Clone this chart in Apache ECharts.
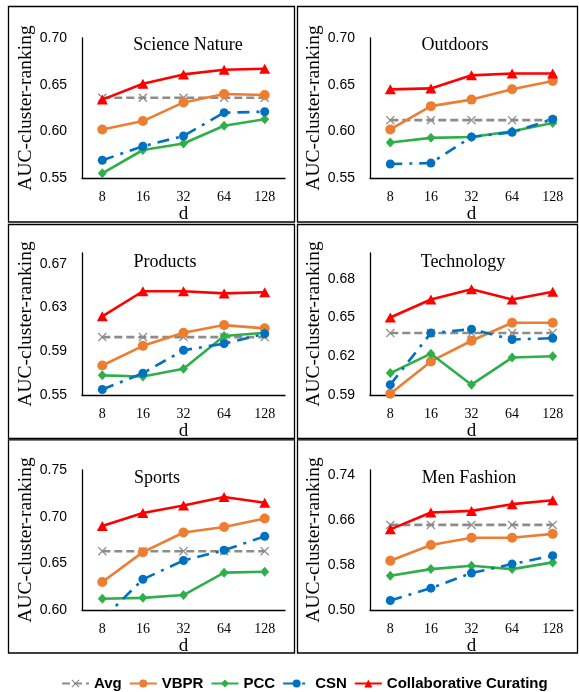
<!DOCTYPE html>
<html><head><meta charset="utf-8">
<script src="https://cdn.jsdelivr.net/npm/echarts@6/dist/echarts.min.js"></script>
<style>html,body{margin:0;padding:0;background:#fff}#c{width:579px;height:692px}</style>
</head><body><div id="c"></div><script>
const categories = ['8','16','32','64','128'];
const seriesNames = ['Avg','VBPR','PCC','CSN','Collaborative Curating'];
const panelTitles = ['Science Nature','Outdoors','Products','Technology','Sports','Men Fashion'];
const yMin = [0.55,0.55,0.55,0.59,0.60,0.50];
const yMax = [0.70,0.70,0.68,0.70,0.75,0.75];
const yStep = [0.05,0.05,0.04,0.03,0.05,0.08];

const scienceAvg  = [0.636,0.636,0.636,0.636,0.636];
const scienceVBPR = [0.602,0.611,0.631,0.640,0.639];
const sciencePCC  = [0.555,0.580,0.587,0.606,0.613];
const scienceCSN  = [0.569,0.584,0.595,0.620,0.621];
const scienceCC   = [0.634,0.651,0.661,0.666,0.667];

const outdoorsAvg  = [0.612,0.612,0.612,0.612,0.612];
const outdoorsVBPR = [0.602,0.627,0.634,0.645,0.654];
const outdoorsPCC  = [0.588,0.593,0.594,0.600,0.609];
const outdoorsCSN  = [0.565,0.566,0.594,0.599,0.613];
const outdoorsCC   = [0.645,0.646,0.660,0.662,0.662];

const productsAvg  = [0.603,0.603,0.603,0.603,0.603];
const productsVBPR = [0.577,0.595,0.607,0.614,0.611];
const productsPCC  = [0.568,0.567,0.574,0.604,0.607];
const productsCSN  = [0.555,0.570,0.591,0.597,0.606];
const productsCC   = [0.622,0.645,0.645,0.643,0.644];

const technologyAvg  = [0.638,0.638,0.638,0.638,0.638];
const technologyVBPR = [0.591,0.616,0.632,0.646,0.646];
const technologyPCC  = [0.607,0.622,0.598,0.619,0.620];
const technologyCSN  = [0.598,0.638,0.641,0.633,0.634];
const technologyCC   = [0.650,0.664,0.672,0.664,0.670];

const sportsAvg  = [0.663,0.663,0.663,0.663,0.663];
const sportsVBPR = [0.630,0.662,0.683,0.689,0.698];
const sportsPCC  = [0.612,0.613,0.616,0.640,0.641];
const sportsCSN  = [0.590,0.633,0.653,0.664,0.679];
const sportsCC   = [0.690,0.704,0.712,0.721,0.715];

const fashionAvg  = [0.652,0.652,0.652,0.652,0.652];
const fashionVBPR = [0.588,0.616,0.629,0.629,0.636];
const fashionPCC  = [0.561,0.573,0.579,0.573,0.585];
const fashionCSN  = [0.517,0.539,0.566,0.582,0.597];
const fashionCC   = [0.644,0.674,0.677,0.689,0.696];

const panelData = [
  [scienceAvg, scienceVBPR, sciencePCC, scienceCSN, scienceCC],
  [outdoorsAvg, outdoorsVBPR, outdoorsPCC, outdoorsCSN, outdoorsCC],
  [productsAvg, productsVBPR, productsPCC, productsCSN, productsCC],
  [technologyAvg, technologyVBPR, technologyPCC, technologyCSN, technologyCC],
  [sportsAvg, sportsVBPR, sportsPCC, sportsCSN, sportsCC],
  [fashionAvg, fashionVBPR, fashionPCC, fashionCSN, fashionCC]
];

const X_PATH = 'path://M0,1 L1,0 L5,4 L9,0 L10,1 L6,5 L10,9 L9,10 L5,6 L1,10 L0,9 L4,5 Z';
const styles = [
  {color:'#8C8C8C', type:[8,4], symbol:X_PATH, size:9},
  {color:'#ED7D31', type:'solid', symbol:'circle', size:10},
  {color:'#2FAF4A', type:'solid', symbol:'diamond', size:[9,10]},
  {color:'#0070C0', type:[12,7,3,7], symbol:'circle', size:9},
  {color:'#FF0000', type:'solid', symbol:'triangle', size:[11,10]}
];

const SERIF = '"Liberation Serif", "Times New Roman", serif';
const SANS = '"Liberation Sans", Arial, sans-serif';
const rowTop = [38, 253, 470];
const rowH = [140, 142, 140];
const titlePos = [[188,45],[455,45],[165,262],[463,262],[157,478],[469,478]];

const grids = [], xAxes = [], yAxes = [], series = [], graphics = [];
for (let p = 0; p < 6; p++) {
  const c = p % 2, r = Math.floor(p / 2);
  grids.push({left: 82 + 288*c, top: rowTop[r], width: 203, height: rowH[r]});
  xAxes.push({
    type:'category', gridIndex:p, data:categories, boundaryGap:true,
    axisLine:{lineStyle:{color:'#000', width:1.3}}, axisTick:{show:false},
    axisLabel:{color:'#000', fontFamily:SERIF, fontSize:14, margin:12},
    name:'d', nameLocation:'middle', nameGap:21,
    nameTextStyle:{color:'#000', fontFamily:SERIF, fontSize:19}
  });
  yAxes.push({
    type:'value', gridIndex:p, min:yMin[p], max:yMax[p], interval:yStep[p],
    axisLine:{show:true, lineStyle:{color:'#000', width:1.3}}, axisTick:{show:false},
    splitLine:{show:false},
    axisLabel:{color:'#000', fontFamily:SANS, fontSize:14, margin:15,
      showMaxLabel: (Math.abs((yMax[p]-yMin[p])/yStep[p] - Math.round((yMax[p]-yMin[p])/yStep[p])) < 1e-6),
      formatter: v => v.toFixed(2)},
    name:'AUC-cluster-ranking', nameLocation:'middle', nameGap:46, nameRotate:90,
    nameTextStyle:{color:'#000', fontFamily:SERIF, fontSize:19.5}
  });
  panelData[p].forEach((arr, k) => {
    const s = styles[k];
    series.push({
      type:'line', name:seriesNames[k], xAxisIndex:p, yAxisIndex:p, data:arr,
      symbol:s.symbol, symbolSize:s.size, showAllSymbol:true, clip:true,
      lineStyle:{color:s.color, width:2.6, type:s.type},
      itemStyle:{color:s.color},
      emphasis:{disabled:true}, animation:false, z:2+k
    });
  });
  graphics.push({
    type:'text', x:titlePos[p][0], y:titlePos[p][1],
    style:{text:panelTitles[p], fontFamily:SERIF, fontSize:18, fill:'#000', align:'center', verticalAlign:'middle'}
  });
}
const colX = [[8.5, 294.5], [297.5, 577.5]];
const rowY = [[6.5, 222], [224.5, 438.5], [439.8, 653]];
for (let r = 0; r < 3; r++) for (let c = 0; c < 2; c++) {
  graphics.push({type:'rect', shape:{x:colX[c][0], y:rowY[r][0], width:colX[c][1]-colX[c][0], height:rowY[r][1]-rowY[r][0]},
    style:{fill:'none', stroke:'#000', lineWidth:1.3}, z:100});
}

const chart = echarts.init(document.getElementById('c'), null, {renderer:'canvas'});
chart.setOption({
  animation:false,
  grid:grids, xAxis:xAxes, yAxis:yAxes, series:series, graphic:graphics,
  legend:{
    data:seriesNames, left:56, top:671, itemWidth:27, itemHeight:10, itemGap:7,
    textStyle:{color:'#000', fontFamily:SANS, fontWeight:'bold', fontSize:15},
    selectedMode:false
  }
});
</script></body></html>
